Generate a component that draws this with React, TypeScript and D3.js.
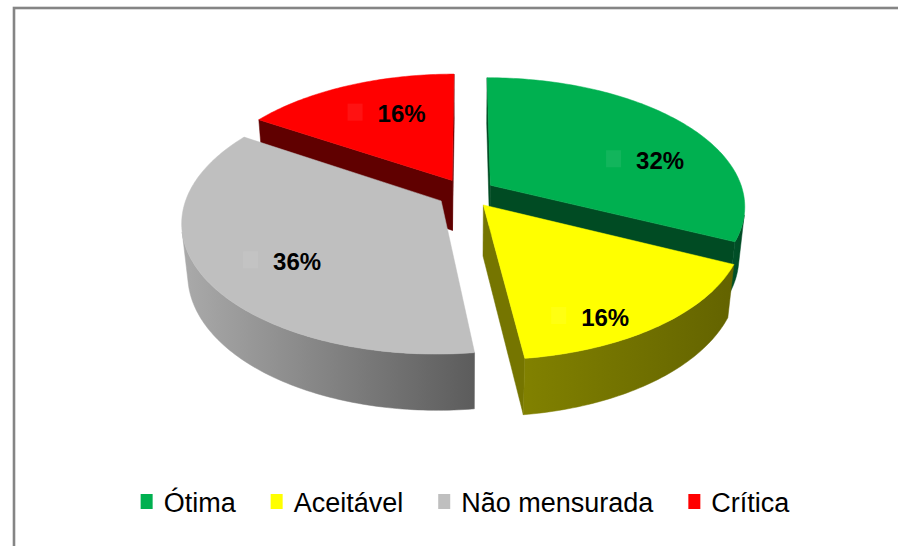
import React, { useEffect, useRef } from 'react';
import * as d3 from 'd3';

// chart data
const categories = ['Ótima', 'Aceitável', 'Não mensurada', 'Crítica'];
const shares = [32, 16, 36, 16];
const valueLabels = ['32%', '16%', '36%', '16%'];

const topColors = ['#00b050', '#ffff00', '#bfbfbf', '#ff0000'];
const wallColors = [
  ['#00532a', '#004a24'],
  ['#818100', '#636300'],
  ['#aaaaaa', '#5c5c5c'],
  ['#660000', '#5a0000'],
];
const faceColors = ['#004b23', '#757500', '#8a8a8a', '#600000'];
// small pixel nudges for the data labels (Excel best-fit placement)
const labelNudge = [
  [31, 19],
  [4, 31],
  [18, 9],
  [25, 2],
];

const W = 898;
const H = 546;

// 3d view settings
const tilt = Math.PI / 6;
const camDist = 5.55;
const focal = 1405;
const thick = 0.235;
const explode = 0.115;
const cx = 466;
const cy = 193;

const project = (X: number, Y: number, Z: number): [number, number] => {
  const yc = Y * Math.cos(tilt) - Z * Math.sin(tilt);
  const zc = Y * Math.sin(tilt) + Z * Math.cos(tilt);
  const k = focal / (camDist - zc);
  return [cx + X * k, cy - yc * k];
};

const PieChart3D: React.FC = () => {
  const ref = useRef<SVGSVGElement | null>(null);

  useEffect(() => {
    const svg = d3.select(ref.current);
    svg.selectAll('*').remove();

    svg.attr('width', W).attr('height', H).attr('viewBox', `0 0 ${W} ${H}`);

    svg.append('rect').attr('width', W).attr('height', H).attr('fill', '#ffffff');

    // frame
    svg
      .append('rect')
      .attr('x', 14)
      .attr('y', 8)
      .attr('width', W + 20)
      .attr('height', H + 20)
      .attr('fill', 'none')
      .attr('stroke', '#858585')
      .attr('stroke-width', 2.6);

    const defs = svg.append('defs');
    const line = d3.line<[number, number]>();
    const camZ = camDist * Math.cos(tilt);

    const arcs = d3
      .pie<number>()
      .sort(null)
      .value(d => d)(shares);

    const slices = arcs.map((a, i) => {
      const mid = (a.startAngle + a.endAngle) / 2;
      const ox = explode * Math.sin(mid);
      const oz = -explode * Math.cos(mid);
      return { a, i, mid, ox, oz, depth: oz - 0.5 * Math.cos(mid) };
    });

    // paint far slices first
    const ordered = [...slices].sort((p, q) => p.depth - q.depth);

    const pieG = svg.append('g');

    ordered.forEach(({ a, i, ox, oz }) => {
      const s = a.startAngle;
      const e = a.endAngle;
      const rim = (ang: number, Y: number) => project(ox + Math.sin(ang), Y, oz - Math.cos(ang));
      const apex = (Y: number) => project(ox, Y, oz);
      const g = pieG.append('g');

      // radial faces
      const startVis = ox * Math.cos(s) - Math.sin(s) * (camZ - oz) > 0;
      const endVis = -ox * Math.cos(e) + Math.sin(e) * (camZ - oz) > 0;
      [
        [s, startVis],
        [e, endVis],
      ].forEach(([ang, vis]) => {
        if (!vis) return;
        const pts: [number, number][] = [
          apex(0),
          rim(ang as number, 0),
          rim(ang as number, -thick),
          apex(-thick),
        ];
        g.append('path')
          .attr('d', line(pts) + 'Z')
          .attr('fill', faceColors[i])
          .attr('stroke', faceColors[i])
          .attr('stroke-width', 0.5);
      });

      // outer wall, only where it faces the camera
      const steps = Math.max(2, Math.ceil(((e - s) * 180) / Math.PI));
      const angs = d3.range(steps + 1).map(k => s + ((e - s) * k) / steps);
      const vis = (ang: number) => -1 - ox * Math.sin(ang) + (oz - camZ) * Math.cos(ang) > 0;
      let run: number[] = [];
      const runs: number[][] = [];
      angs.forEach(ang => {
        if (vis(ang)) run.push(ang);
        else if (run.length) {
          runs.push(run);
          run = [];
        }
      });
      if (run.length) runs.push(run);

      runs.forEach((r, ri) => {
        if (r.length < 2) return;
        const top = r.map(ang => rim(ang, 0));
        const bot = r.map(ang => rim(ang, -thick)).reverse();
        const pts = [...top, ...bot];
        const xs = pts.map(p => p[0]);
        const gid = `wall-${i}-${ri}`;
        const grad = defs
          .append('linearGradient')
          .attr('id', gid)
          .attr('gradientUnits', 'userSpaceOnUse')
          .attr('x1', d3.min(xs) as number)
          .attr('x2', d3.max(xs) as number)
          .attr('y1', 0)
          .attr('y2', 0);
        grad.append('stop').attr('offset', 0).attr('stop-color', wallColors[i][0]);
        grad.append('stop').attr('offset', 1).attr('stop-color', wallColors[i][1]);
        g.append('path')
          .attr('d', line(pts) + 'Z')
          .attr('fill', `url(#${gid})`)
          .attr('stroke', `url(#${gid})`)
          .attr('stroke-width', 0.5);
      });

      // top face
      const topPts: [number, number][] = [apex(0), ...angs.map(ang => rim(ang, 0))];
      g.append('path')
        .attr('d', line(topPts) + 'Z')
        .attr('fill', topColors[i])
        .attr('stroke', topColors[i])
        .attr('stroke-width', 0.5);
    });

    // data labels
    const labelG = svg.append('g');
    slices.forEach(({ i, mid, ox, oz }) => {
      const [px, py] = project(ox + 0.7 * Math.sin(mid), 0, oz - 0.7 * Math.cos(mid));
      const lx = px + labelNudge[i][0];
      const ly = py + labelNudge[i][1];
      labelG
        .append('rect')
        .attr('x', lx - 54)
        .attr('y', ly - 10)
        .attr('width', 15)
        .attr('height', 17)
        .attr('fill', '#ffffff')
        .attr('fill-opacity', 0.07);
      labelG
        .append('text')
        .attr('x', lx)
        .attr('y', ly)
        .attr('dy', '0.36em')
        .attr('text-anchor', 'middle')
        .attr('font-family', '"Liberation Sans", Arial, sans-serif')
        .attr('font-weight', 'bold')
        .attr('font-size', 24)
        .attr('fill', '#000000')
        .text(valueLabels[i]);
    });

    // legend
    const legend = svg.append('g');
    const items = categories.map((c, i) => {
      const item = legend.append('g');
      item
        .append('rect')
        .attr('x', 0)
        .attr('y', -18)
        .attr('width', 12)
        .attr('height', 15)
        .attr('fill', topColors[i]);
      const t = item
        .append('text')
        .attr('x', 23)
        .attr('y', 0)
        .attr('font-family', '"Liberation Sans", Arial, sans-serif')
        .attr('font-size', 27)
        .attr('fill', '#000000')
        .text(c);
      const tw = (t.node() as SVGTextElement).getComputedTextLength();
      return { item, w: 23 + tw };
    });
    const gap = 35;
    const total = d3.sum(items, d => d.w) + gap * (items.length - 1);
    let x0 = 465 - total / 2;
    items.forEach(({ item, w }) => {
      item.attr('transform', `translate(${x0},${512})`);
      x0 += w + gap;
    });
  }, []);

  return <svg ref={ref} style={{ position: 'absolute', left: 0, top: 0 }}></svg>;
};

export default function App() {
  return <PieChart3D />;
}
